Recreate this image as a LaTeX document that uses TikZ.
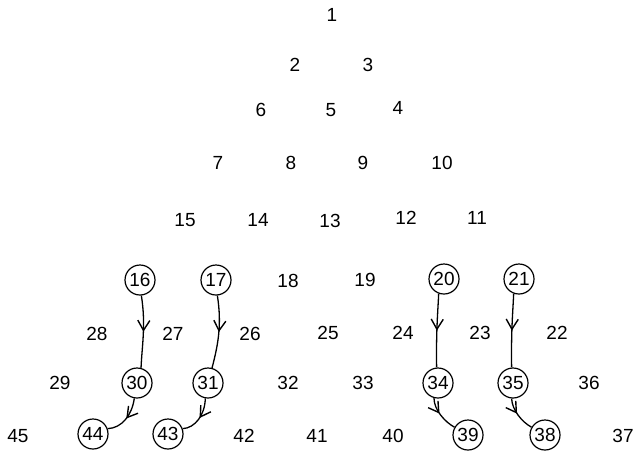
\documentclass[tikz,border=0pt]{standalone}
\usepackage{fontspec}
\setmainfont{Liberation Sans}
\usetikzlibrary{arrows.meta,decorations.markings}
\tikzset{
  lbl/.style={font=\fontsize{19}{22}\selectfont, inner sep=0pt},
  cnode/.style={lbl, circle, draw, line width=1.2pt, minimum size=30pt},
  flow/.style={line width=1.3pt, postaction={decorate},
    decoration={markings, mark=at position #1 with {\arrow{Straight Barb[length=10pt,width=12pt,line width=1.4pt]}}}},
  flow/.default=0.5
}
\begin{document}
\begin{tikzpicture}[x=1pt,y=-1pt]
\useasboundingbox (0,0) rectangle (634,456);
% triangle of plain numbers
\node[lbl] (n1) at (332,15) {1};
\node[lbl] (n2) at (295,65) {2};
\node[lbl] (n3) at (368,65) {3};
\node[lbl] (n6) at (261,110) {6};
\node[lbl] (n5) at (331,110) {5};
\node[lbl] (n4) at (398,108) {4};
\node[lbl] (n7) at (218,163) {7};
\node[lbl] (n8) at (291,163) {8};
\node[lbl] (n9) at (363,163) {9};
\node[lbl] (n10) at (442,163) {10};
\node[lbl] (n15) at (185,220) {15};
\node[lbl] (n14) at (258,220) {14};
\node[lbl] (n13) at (330,221) {13};
\node[lbl] (n12) at (406,218) {12};
\node[lbl] (n11) at (477,218) {11};
% row 6
\node[cnode] (n16) at (140,280) {16};
\node[cnode] (n17) at (216,280) {17};
\node[lbl] (n18) at (288,281) {18};
\node[lbl] (n19) at (365,280) {19};
\node[cnode] (n20) at (444,279) {20};
\node[cnode] (n21) at (519,279) {21};
% row 7
\node[lbl] (n28) at (97,334) {28};
\node[lbl] (n27) at (173,334) {27};
\node[lbl] (n26) at (250,334) {26};
\node[lbl] (n25) at (328,333) {25};
\node[lbl] (n24) at (403,333) {24};
\node[lbl] (n23) at (480,333) {23};
\node[lbl] (n22) at (557,333) {22};
% row 8
\node[lbl] (n29) at (60,383) {29};
\node[cnode] (n30) at (137,383) {30};
\node[cnode] (n31) at (208,383) {31};
\node[lbl] (n32) at (288,383) {32};
\node[lbl] (n33) at (363,383) {33};
\node[cnode] (n34) at (438,383) {34};
\node[cnode] (n35) at (513,383) {35};
\node[lbl] (n36) at (589,383) {36};
% row 9
\node[lbl] (n45) at (18,436) {45};
\node[cnode] (n44) at (93,434) {44};
\node[cnode] (n43) at (168,434) {43};
\node[lbl] (n42) at (244,436) {42};
\node[lbl] (n41) at (317,436) {41};
\node[lbl] (n40) at (393,436) {40};
\node[cnode] (n39) at (468,435) {39};
\node[cnode] (n38) at (545,435) {38};
\node[lbl] (n37) at (623,436) {37};
% connectors
\draw[flow] (n16.-85) .. controls (146,325) and (142,345) .. (n30.75);
\draw[flow] (n17.-85) .. controls (222,325) and (218,345) .. (n31.75);
\draw[flow] (n30.-100) .. controls (132,415) and (122,428) .. (n44.20);
\draw[flow] (n31.-100) .. controls (205,415) and (195,428) .. (n43.20);
\draw[flow] (n20.-110) .. controls (438,310) and (436,330) .. (n34.95);
\draw[flow] (n21.-110) .. controls (513,310) and (511,330) .. (n35.95);
\draw[flow=0.45] (n34.-105) .. controls (434,410) and (445,422) .. (n39.150);
\draw[flow=0.45] (n35.-95) .. controls (512,410) and (522,422) .. (n38.150);
\end{tikzpicture}
\end{document}
